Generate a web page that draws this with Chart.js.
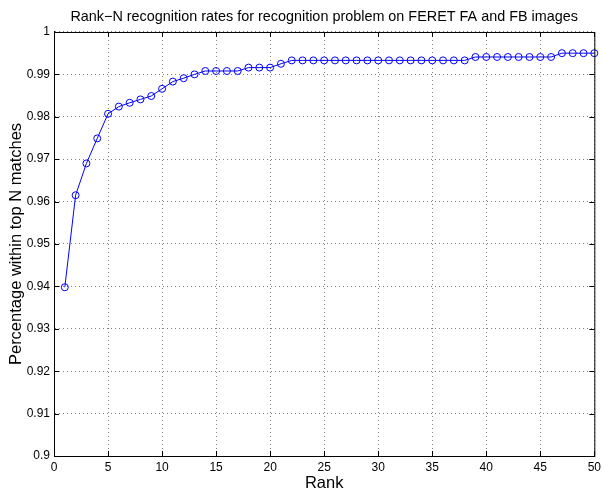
<!DOCTYPE html>
<html>
<head>
<meta charset="utf-8">
<script src="https://cdn.jsdelivr.net/npm/chart.js@4.4.1/dist/chart.umd.min.js"></script>
<style>
    html, body { margin: 0; padding: 0; background: #fff; }
    canvas { display: block; }
</style>
</head>
<body>
<canvas id="rankChart" width="605" height="494"></canvas>
<script>
// Rank-N recognition rates
const ranks = [
    1, 2, 3, 4, 5, 6, 7, 8, 9, 10,
    11, 12, 13, 14, 15, 16, 17, 18, 19, 20,
    21, 22, 23, 24, 25, 26, 27, 28, 29, 30,
    31, 32, 33, 34, 35, 36, 37, 38, 39, 40,
    41, 42, 43, 44, 45, 46, 47, 48, 49, 50
];
const recognitionRates = [
    0.9398, 0.9615, 0.9690, 0.9749, 0.9807, 0.9824, 0.9833, 0.9841, 0.9849, 0.9866,
    0.9883, 0.9891, 0.9900, 0.9908, 0.9908, 0.9908, 0.9908, 0.9916, 0.9916, 0.9916,
    0.9925, 0.9933, 0.9933, 0.9933, 0.9933, 0.9933, 0.9933, 0.9933, 0.9933, 0.9933,
    0.9933, 0.9933, 0.9933, 0.9933, 0.9933, 0.9933, 0.9933, 0.9933, 0.9941, 0.9941,
    0.9941, 0.9941, 0.9941, 0.9941, 0.9941, 0.9941, 0.9950, 0.9950, 0.9950, 0.9950
];
const xTicks = [0, 5, 10, 15, 20, 25, 30, 35, 40, 45, 50];
const yTicks = [0.9, 0.91, 0.92, 0.93, 0.94, 0.95, 0.96, 0.97, 0.98, 0.99, 1];

const FONT = 'Liberation Sans, Arial, Helvetica, sans-serif';

// MATLAB style box with inward tick marks on all four sides
const boxPlugin = {
    id: 'matlabBox',
    afterDraw(chart) {
        const { ctx, chartArea: a, scales } = chart;
        ctx.save();
        ctx.strokeStyle = '#000';
        ctx.lineWidth = 1;
        ctx.setLineDash([]);
        ctx.beginPath();
        xTicks.forEach(v => {
            const px = Math.round(scales.x.getPixelForValue(v)) + 0.5;
            ctx.moveTo(px, a.bottom); ctx.lineTo(px, a.bottom - 5);
            ctx.moveTo(px, a.top); ctx.lineTo(px, a.top + 5);
        });
        yTicks.forEach(v => {
            const py = Math.round(scales.y.getPixelForValue(v)) + 0.5;
            ctx.moveTo(a.left, py); ctx.lineTo(a.left + 5, py);
            ctx.moveTo(a.right, py); ctx.lineTo(a.right - 5, py);
        });
        ctx.stroke();
        ctx.strokeRect(a.left + 0.5, a.top + 0.5, a.right - a.left, a.bottom - a.top);
        ctx.restore();
    }
};

const ctx = document.getElementById('rankChart').getContext('2d');
new Chart(ctx, {
    type: 'line',
    data: {
        datasets: [{
            label: 'Rank-N recognition rate',
            data: ranks.map((r, i) => ({ x: r, y: recognitionRates[i] })),
            borderColor: '#0000ff',
            borderWidth: 1,
            backgroundColor: 'rgba(0,0,0,0)',
            fill: false,
            tension: 0,
            pointStyle: 'circle',
            pointRadius: 3.5,
            pointBorderWidth: 1,
            pointBorderColor: '#0000ff',
            pointBackgroundColor: 'rgba(0,0,0,0)',
            clip: false,
        }]
    },
    options: {
        responsive: false,
        animation: false,
        layout: { padding: { left: 0, right: 8, top: 0, bottom: 0 } },
        plugins: {
            legend: { display: false },
            tooltip: { enabled: false },
            title: {
                display: true,
                fullSize: false,
                text: 'Rank\u2212N recognition rates for recognition problem on FERET FA and FB images',
                color: '#000',
                font: { family: FONT, size: 14.4, weight: 'normal', lineHeight: 1.2 },
                padding: { top: 8, bottom: 6.7 }
            }
        },
        scales: {
            x: {
                type: 'linear',
                min: 0,
                max: 50,
                afterFit: scale => { scale.height = 38; },
                afterBuildTicks: scale => { scale.ticks = xTicks.map(v => ({ value: v })); },
                ticks: {
                    color: '#000',
                    font: { family: FONT, size: 12 },
                    padding: 4,
                    maxRotation: 0,
                    autoSkip: false
                },
                grid: {
                    color: 'rgba(0,0,0,0.5)',
                    lineWidth: 1,
                    drawTicks: false
                },
                border: { display: true, color: '#000', width: 1, dash: [1, 3] },
                title: {
                    display: true,
                    text: 'Rank',
                    color: '#000',
                    font: { family: FONT, size: 16.5, lineHeight: 1.2 },
                    padding: { top: 0, bottom: 1 }
                }
            },
            y: {
                type: 'linear',
                min: 0.9,
                max: 1,
                afterFit: scale => { scale.width = 54; },
                afterBuildTicks: scale => { scale.ticks = yTicks.map(v => ({ value: v })); },
                ticks: {
                    color: '#000',
                    font: { family: FONT, size: 12 },
                    padding: 4,
                    callback: v => String(parseFloat(Number(v).toFixed(2)))
                },
                grid: {
                    color: 'rgba(0,0,0,0.5)',
                    lineWidth: 1,
                    drawTicks: false
                },
                border: { display: true, color: '#000', width: 1, dash: [1, 3] },
                title: {
                    display: true,
                    text: 'Percentage within top N matches',
                    color: '#000',
                    font: { family: FONT, size: 16.5, lineHeight: 1.2 },
                    padding: { top: 7, bottom: 0 }
                }
            }
        }
    },
    plugins: [boxPlugin]
});
</script>
</body>
</html>
